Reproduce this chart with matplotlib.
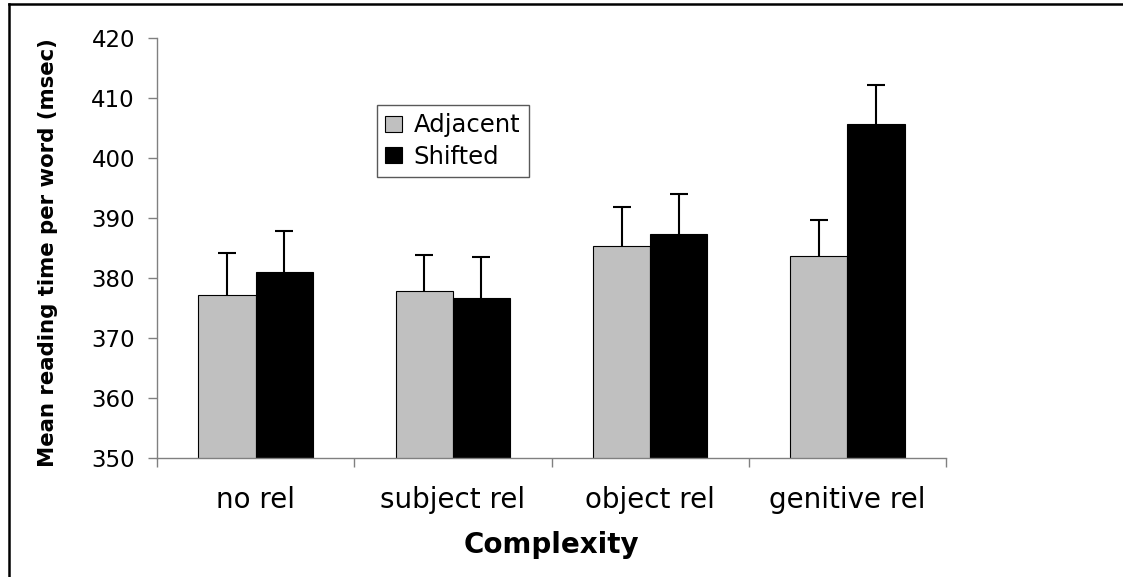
import matplotlib.pyplot as plt
import numpy as np
from matplotlib.lines import Line2D

plt.rcParams['font.family'] = ['DejaVu Sans']

categories = ['no rel', 'subject rel', 'object rel', 'genitive rel']
adjacent = [377.1, 377.8, 385.4, 383.7]
shifted = [381.0, 376.7, 387.3, 405.7]
adjacent_err = [7.1, 6.0, 6.4, 5.9]
shifted_err = [6.8, 6.8, 6.7, 6.5]

fig = plt.figure(figsize=(11.23, 5.77), dpi=100)
ax = fig.add_axes([157/1123, 1 - 458/577, 789/1123, 420/577])

x = np.arange(len(categories))
w = 0.29
err_kw = dict(ecolor='black', elinewidth=1.5, capsize=6.4, capthick=1.5)
b1 = ax.bar(x - w/2, adjacent, w, color='#c0c0c0', edgecolor='black', linewidth=0.8,
            yerr=[np.zeros(4), adjacent_err], error_kw=err_kw, label='Adjacent')
b2 = ax.bar(x + w/2, shifted, w, color='black', edgecolor='black', linewidth=0.8,
            yerr=[np.zeros(4), shifted_err], error_kw=err_kw, label='Shifted')
# only the upper cap, as in the original
for b in (b1, b2):
    b.errorbar.lines[1][0].set_visible(False)

ax.set_xlim(-0.5, 3.5)
ax.set_ylim(350, 420)
ax.set_yticks(np.arange(350, 421, 10))
ax.set_xticks(x)
ax.set_xticklabels(categories, fontsize=20)
ax.set_xticks(np.arange(-0.5, 4, 1), minor=True)
ax.tick_params(axis='x', which='major', length=0, pad=20.5)
ax.tick_params(axis='x', which='minor', length=6.5, width=1, color='#808080', direction='out')
ax.tick_params(axis='y', length=6.5, width=1, color='#808080', direction='out', labelsize=16.5, pad=9.4)

for s in ['top', 'right']:
    ax.spines[s].set_visible(False)
for s in ['left', 'bottom']:
    ax.spines[s].set_color('#808080')
    ax.spines[s].set_linewidth(1)

ax.set_xlabel('Complexity', fontsize=20, fontweight='bold')
ax.xaxis.set_label_coords(0.5, -0.174)
ax.set_ylabel('Mean reading time per word (msec)', fontsize=15.3, fontweight='bold')
ax.yaxis.set_label_coords(-0.125, 0.488)

leg = ax.legend(loc='upper left', bbox_to_anchor=(0.2788, 0.8405), fontsize=17.5,
                frameon=True, fancybox=False, handlelength=0.66, handleheight=0.66,
                handletextpad=0.5, borderpad=0.35, labelspacing=0.3, borderaxespad=0)
leg.get_frame().set_edgecolor('#303030')
leg.get_frame().set_linewidth(1)

fig.add_artist(Line2D([8.7/1123, 8.7/1123], [0, 1 - 4/577], color='black', linewidth=1.8, transform=fig.transFigure))
fig.add_artist(Line2D([8.7/1123, 1], [1 - 4/577, 1 - 4/577], color='black', linewidth=1.8, transform=fig.transFigure))

fig.savefig('out.png', dpi=100)
